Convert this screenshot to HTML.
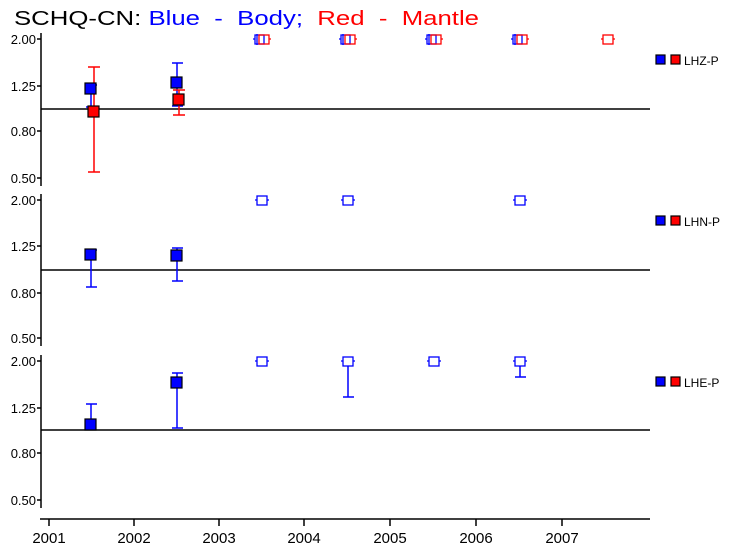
<!DOCTYPE html>
<html><head><style>body{margin:0;background:#fff}svg{display:block}</style></head><body>
<svg width="733" height="551" xmlns="http://www.w3.org/2000/svg" font-family="Liberation Sans, sans-serif">
<rect width="733" height="551" fill="#fff"/>
<text x="14" y="25" font-size="20" textLength="465" lengthAdjust="spacingAndGlyphs" xml:space="preserve"><tspan fill="#000">SCHQ-CN:</tspan><tspan fill="#0000ff"> Blue  -  Body;</tspan><tspan fill="#ff0000">  Red  -  Mantle</tspan></text>
<g stroke="#000" stroke-width="1.5" fill="none">
<line x1="41" y1="33" x2="41" y2="186"/>
<line x1="41" y1="194" x2="41" y2="346"/>
<line x1="41" y1="355" x2="41" y2="508"/>
<line x1="41" y1="109" x2="650" y2="109"/>
<line x1="41" y1="270" x2="650" y2="270"/>
<line x1="41" y1="430" x2="650" y2="430"/>
<line x1="40" y1="519" x2="650" y2="519"/>
<line x1="49" y1="519" x2="49" y2="526"/><line x1="134" y1="519" x2="134" y2="526"/><line x1="219" y1="519" x2="219" y2="526"/><line x1="304" y1="519" x2="304" y2="526"/><line x1="390" y1="519" x2="390" y2="526"/><line x1="476" y1="519" x2="476" y2="526"/><line x1="562" y1="519" x2="562" y2="526"/>
<path d="M37 39H41M37 86H41M37 131H41M37 178H41M37 200H41M37 246H41M37 293H41M37 338H41M37 361H41M37 408H41M37 453H41M37 500H41"/>
</g>
<g font-size="13" text-anchor="end" fill="#000">
<text x="36" y="44">2.00</text><text x="36" y="91">1.25</text><text x="36" y="136">0.80</text><text x="36" y="183">0.50</text>
<text x="36" y="205">2.00</text><text x="36" y="251">1.25</text><text x="36" y="298">0.80</text><text x="36" y="343">0.50</text>
<text x="36" y="366">2.00</text><text x="36" y="413">1.25</text><text x="36" y="458">0.80</text><text x="36" y="505">0.50</text>
</g>
<g font-size="15" text-anchor="middle" fill="#000">
<text x="49" y="543">2001</text><text x="134" y="543">2002</text><text x="219" y="543">2003</text><text x="304" y="543">2004</text><text x="390" y="543">2005</text><text x="476" y="543">2006</text><text x="562" y="543">2007</text>
</g>
<g stroke-width="1.5" fill="none">
<path stroke="#0000ff" d="M91 85V107M86 85H97M86 107H97M177 63V106M172 63H183M172 106H183M91 250V287M86 250H97M86 287H97M177 248V281M172 248H183M172 281H183M91 404V430M86 404H97M177 373V428M172 373H183M172 428H183M348 366V397M343 397H354M520 366V377M515 377H526"/>
<path stroke="#ff0000" d="M94 67V172M88 67H100M88 172H100M179 90V115M173 90H185M173 115H185"/>
</g>
<g stroke="#000" stroke-width="1.2">
<rect x="85" y="83" width="11" height="11" fill="#0000ff"/>
<rect x="88" y="106" width="11" height="11" fill="#ff0000"/>
<rect x="171" y="77" width="11" height="11" fill="#0000ff"/>
<rect x="173" y="94" width="11" height="11" fill="#ff0000"/>
<rect x="85" y="249" width="11" height="11" fill="#0000ff"/>
<rect x="171" y="250" width="11" height="11" fill="#0000ff"/>
<rect x="85" y="419" width="11" height="11" fill="#0000ff"/>
<rect x="171" y="377" width="11" height="11" fill="#0000ff"/>
<rect x="656" y="55" width="9" height="9" fill="#0000ff"/><rect x="671" y="55" width="9" height="9" fill="#ff0000"/>
<rect x="656" y="216" width="9" height="9" fill="#0000ff"/><rect x="671" y="216" width="9" height="9" fill="#ff0000"/>
<rect x="656" y="377" width="9" height="9" fill="#0000ff"/><rect x="671" y="377" width="9" height="9" fill="#ff0000"/>
</g>
<g fill="none" stroke-width="1.3">
<g stroke="#0000ff">
<rect x="255" y="35" width="9" height="9"/><rect x="341" y="35" width="9" height="9"/><rect x="427" y="35" width="9" height="9"/><rect x="513" y="35" width="9" height="9"/>
<path d="M253 39H255M339 39H341M425 39H427M511 39H513M257 34V45M343 34V45M429 34V45M515 34V45"/>
<rect x="257" y="196" width="10" height="9"/><rect x="343" y="196" width="10" height="9"/><rect x="515" y="196" width="10" height="9"/>
<path d="M255 200H257M267 200H269M341 200H343M353 200H355M513 200H515M525 200H527"/>
<rect x="257" y="357" width="10" height="9"/><rect x="343" y="357" width="10" height="9"/><rect x="429" y="357" width="10" height="9"/><rect x="515" y="357" width="10" height="9"/>
<path d="M255 361H257M267 361H269M341 361H343M353 361H355M427 361H429M439 361H441M513 361H515M525 361H527"/>
</g>
<g stroke="#ff0000">
<rect x="259" y="35" width="10" height="9"/><rect x="345" y="35" width="10" height="9"/><rect x="431" y="35" width="10" height="9"/><rect x="517" y="35" width="10" height="9"/><rect x="603" y="35" width="10" height="9"/>
<path d="M269 39H271M355 39H357M441 39H443M527 39H529M601 39H603M613 39H615"/>
</g>
</g>
<g font-size="12" fill="#000">
<text x="684" y="65">LHZ-P</text><text x="684" y="226">LHN-P</text><text x="684" y="387">LHE-P</text>
</g>
</svg>
</body></html>
